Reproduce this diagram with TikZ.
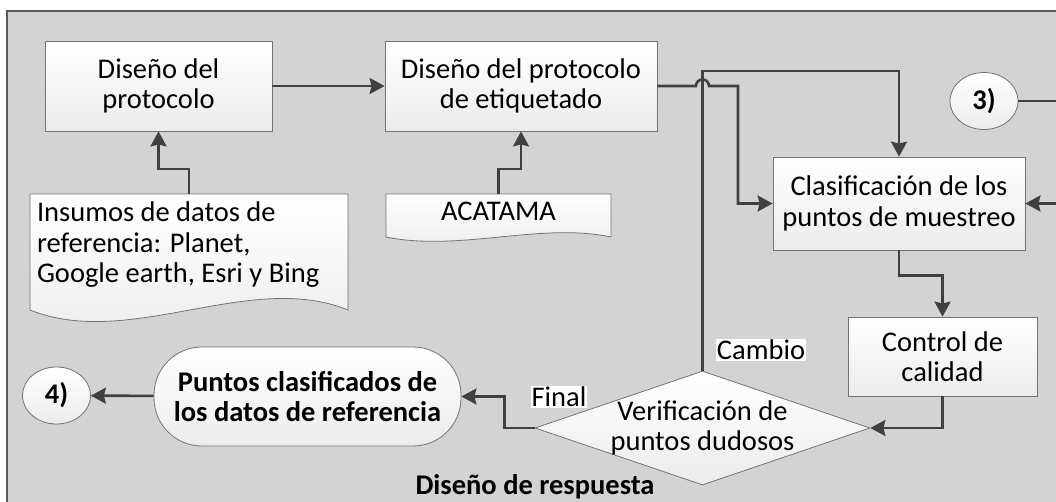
\documentclass[tikz,border=0pt]{standalone}
\usepackage{fontspec}
\setmainfont{Carlito}
\usepackage{tikz}
\usetikzlibrary{shapes.geometric, arrows.meta, positioning, calc}
\definecolor{panelgray}{RGB}{211, 211, 211}
\definecolor{framegray}{RGB}{90, 90, 90}
\definecolor{boxedge}{RGB}{115, 115, 115}
\definecolor{boxshade}{RGB}{236, 236, 236}
\definecolor{linedark}{RGB}{64, 64, 64}

\begin{document}
\begin{tikzpicture}[
    x=1pt, y=-1pt,
    font=\fontsize{28.5}{30.5}\selectfont,
    procbox/.style={
        rectangle,
        draw=boxedge,
        line width=0.8pt,
        top color=white,
        bottom color=boxshade,
        align=center,
        inner sep=2pt
    },
    termnode/.style={
        rectangle,
        rounded corners=48pt,
        draw=boxedge,
        line width=0.8pt,
        top color=white,
        bottom color=boxshade,
        align=center,
        minimum width=307pt,
        minimum height=99pt,
        font=\fontsize{28.5}{30.5}\selectfont\bfseries
    },
    refnode/.style={
        ellipse,
        draw=boxedge,
        line width=0.8pt,
        top color=white,
        bottom color=boxshade,
        minimum width=68pt,
        minimum height=57pt,
        inner sep=0pt,
        font=\fontsize{28.5}{30.5}\selectfont\bfseries
    },
    decision/.style={
        diamond,
        draw=boxedge,
        line width=0.8pt,
        top color=white,
        bottom color=boxshade,
        minimum width=335pt,
        minimum height=114pt,
        inner sep=0pt
    },
    docshape/.style={
        draw=boxedge,
        line width=0.8pt,
        top color=white,
        bottom color=boxshade
    },
    doctext/.style={anchor=north, inner xsep=7pt, inner ysep=8pt},
    lbl/.style={fill=white, inner sep=1pt},
    arr/.style={-{Stealth[length=15pt, width=16pt, inset=2pt]}, line width=2.6pt, color=linedark}
]
    \useasboundingbox (0, 0) rectangle (1056, 501);
    \clip (0, 0) rectangle (1056, 501);

    % Panel
    \fill[white] (0, 0) rectangle (1056, 501);
    \draw[fill=panelgray, draw=framegray, line width=1.5pt] (7, 11) rectangle (1090, 520);

    % Input documents
    \draw[docshape] (30, 194) -- (348, 194) -- (348, 310)
        .. controls (250, 270) and (130, 350) .. (30, 310) -- cycle;
    \draw[docshape] (386, 194) -- (611, 194) -- (611, 237)
        .. controls (540, 222) and (460, 252) .. (386, 237) -- cycle;
    \node[doctext, text width=304pt, align=flush left] (insumos) at (189, 194)
        {Insumos de datos de\\referencia: Planet,\\Google earth, Esri y Bing};
    \node[doctext] (acatama) at (498.5, 194) {ACATAMA};

    % Steps
    \node[procbox, minimum width=227pt, minimum height=90pt] (diseno) at (158.5, 86) {Diseño del\\protocolo};
    \node[procbox, minimum width=272pt, minimum height=90pt] (etiq) at (521, 86) {Diseño del protocolo\\de etiquetado};
    \node[procbox, minimum width=252pt, minimum height=93pt] (clasif) at (899, 203.5) {Clasificación de los\\puntos de muestreo};
    \node[procbox, minimum width=189pt, minimum height=79pt] (control) at (942.5, 356.5) {Control de\\calidad};
    \node[decision, label={[align=center]center:Verificación de\\puntos dudosos}] (verif) at (702.5, 428) {};
    \node[termnode] (puntos) at (307.5, 396.5) {Puntos clasificados de\\los datos de referencia};

    % Off-page references
    \node[refnode] (three) at (984, 101) {3)};
    \node[refnode] (four) at (56.5, 395.5) {4)};

    % Title
    \node[font=\fontsize{28.5}{30}\selectfont\bfseries] (title) at (535, 487) {Diseño de respuesta};

    % Arrows
    \draw[arr] (diseno) -- (etiq);
    \draw[arr] (insumos.north) -- ++(0, -25) -| (diseno.south);
    \draw[arr] (acatama.north) -- ++(0, -25) -| (etiq.south);
    \coordinate (hop) at (verif.north |- etiq.east);
    \draw[arr] (etiq.east) -- ($(hop) + (-6.5, 0)$)
        arc[start angle=180, end angle=360, radius=6.5] -- ++(29, 0) |- (clasif.west);
    \draw[arr] (three.east) -- ++(60, 0) |- (clasif.east);
    \draw[arr] (clasif.south) -- ++(0, 25) -| (control.north);
    \draw[arr] (control.south) |- (verif.east);
    \draw[arr] (verif.west) -- ++(-30, 0) |- (puntos.east);
    \draw[arr] (puntos) -- (four);

    % Loop back arrow
    \coordinate (fbtop) at (702.5, 71);
    \draw[arr] (verif.north) -- (fbtop) -| (clasif.north);

    % Decision labels
    \node[lbl] (final) at (559, 397) {Final};
    \node[lbl] (cambio) at (761, 350) {Cambio};
\end{tikzpicture}
\end{document}
